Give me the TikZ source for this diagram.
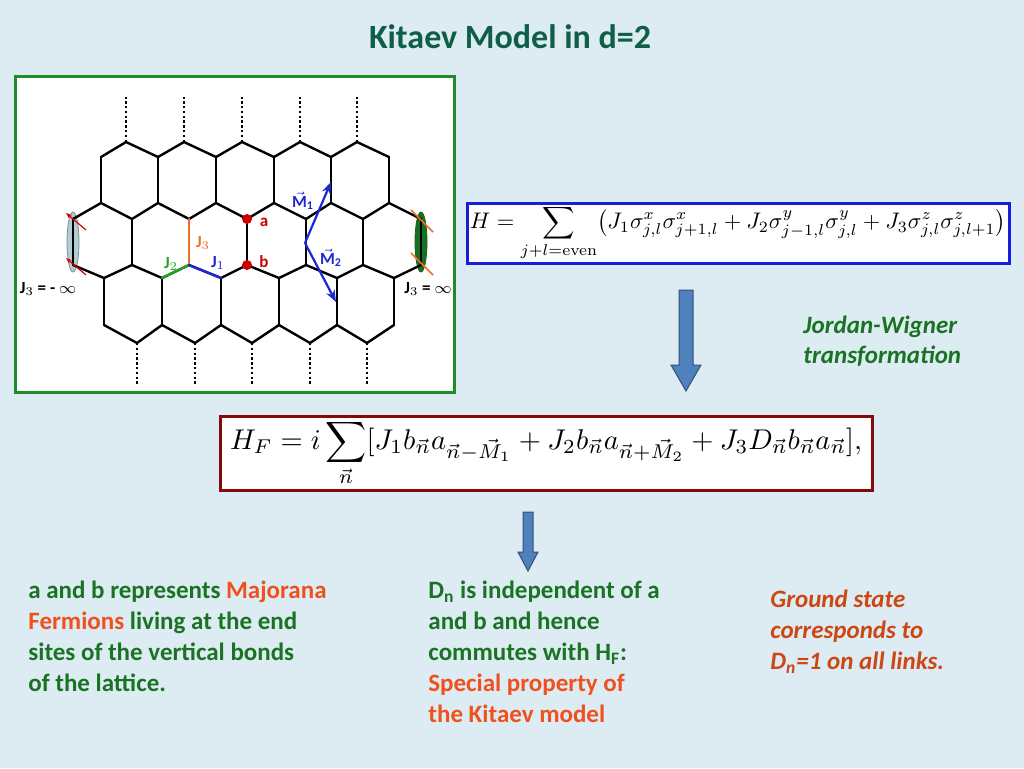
\documentclass[tikz,border=0pt]{standalone}
\usepackage{amsmath,amssymb}
\usepackage{graphicx}
\usepackage[no-math]{fontspec}
\setmainfont{Carlito}
\usetikzlibrary{arrows.meta}
\definecolor{bgblue}{RGB}{221,236,243}
\definecolor{titlecol}{RGB}{15,95,70}
\definecolor{txtgreen}{RGB}{25,115,35}
\definecolor{txtred}{RGB}{240,80,30}
\definecolor{txtbrown}{RGB}{205,70,20}
\definecolor{framegreen}{RGB}{30,140,40}
\definecolor{hblue}{RGB}{20,30,220}
\definecolor{hred}{RGB}{130,10,10}
\definecolor{arrfill}{RGB}{79,129,189}
\definecolor{arrdraw}{RGB}{50,80,120}
\definecolor{bondorange}{RGB}{240,110,40}
\definecolor{bondgreen}{RGB}{40,160,40}
\definecolor{bondblue}{RGB}{30,40,210}
\definecolor{siteblue}{RGB}{175,205,210}
\tikzset{
  bond/.style={line width=1.2pt,line cap=round},
  tail/.style={line width=1.2pt,dash pattern=on 1.2pt off 1.2pt},
  txt/.style={anchor=north west,align=left,inner sep=0pt,font=\fontsize{12.5}{15.5}\selectfont\bfseries},
  blk/.style={fill=arrfill,draw=arrdraw,line width=0.5pt},
  lab/.style={font=\fontsize{8.5}{9}\selectfont\bfseries,inner sep=0pt}
}
\begin{document}
\begin{tikzpicture}[x=0.5pt,y=-0.5pt]
	\fill[bgblue] (0,0) rectangle (1024,768);
	\useasboundingbox (0,0) rectangle (1024,768);
	
	\node[font=\fontsize{17}{20}\selectfont\bfseries,text=titlecol] (title) at (510,37) {Kitaev Model in d=2};
	
	% lattice frame
	\draw[framegreen,fill=white,line width=1.5pt] (15,76) rectangle (454,392);
	
	\foreach \x [count=\i from 0] in {126,184,242,300,357}{
		\coordinate (T\i) at (\x,142);
		\coordinate (Tu\i) at (\x,97);
	}
	\foreach \x [count=\i from 0] in {137,195,252,310,367}{
		\coordinate (B\i) at (\x,343);
		\coordinate (Bd\i) at (\x,385);
	}
	\foreach \x [count=\i from 0] in {101,158,216,274,331,389}{
		\coordinate (U\i) at (\x,157);
		\coordinate (V\i) at (\x,203);
	}
	\foreach \x [count=\i from 0] in {73,132,189,247,306,363,421}{
		\coordinate (P\i) at (\x,219);
		\coordinate (Q\i) at (\x,265);
	}
	\foreach \x [count=\i from 0] in {104,162,221,279,337,394}{
		\coordinate (R\i) at (\x,278);
		\coordinate (S\i) at (\x,325);
	}
	
	% spin ellipses at the ends
	\draw[siteblue!70!black,fill=siteblue,line width=0.4pt] (P0) ++(0,23) ellipse (6 and 30);
	\draw[framegreen!70!black,fill=framegreen!80!black,line width=0.4pt] (P6) ++(0,23) ellipse (6 and 30);
	
	\foreach \i in {0,...,4}{
		\draw[tail] (T\i)--(Tu\i);
		\draw[tail] (B\i)--(Bd\i);
	}
	\foreach \i [evaluate=\i as \j using int(\i+1)] in {0,...,4}{
		\draw[bond] (U\i)--(T\i)--(U\j);
		\draw[bond] (S\i)--(B\i)--(S\j);
	}
	\foreach \i [evaluate=\i as \j using int(\i+1)] in {0,...,5}{
		\draw[bond] (U\i)--(V\i);
		\draw[bond] (P\i)--(V\i)--(P\j);
		\draw[bond] (Q\i)--(R\i)--(Q\j);
		\draw[bond] (R\i)--(S\i);
	}
	\foreach \i in {0,...,6}{
		\draw[bond] (P\i)--(Q\i);
	}
	
	% coloured bonds
	\draw[bond,bondorange] (P2)--(Q2);
	\draw[bond,bondgreen] (Q2)--(R1);
	\draw[bond,bondblue] (Q2)--(R2);
	\fill[red!80!black] (P3) circle (5) (Q3) circle (5);
	\node[lab,text=red!80!black] (a) at (264,222) {a};
	\node[lab,text=red!80!black] (b) at (264,262) {b};
	\node[lab,text=bondorange] (J3) at (203,243) {J$_3$};
	\node[lab,text=bondgreen] (J2) at (171,264) {J$_2$};
	\node[lab,text=bondblue] (J1) at (218,263) {J$_1$};
	
	% translation vectors
	\coordinate (M0) at (305,243);
	\coordinate (M1) at (331,182);
	\coordinate (M2) at (336,302);
	\draw[bondblue,line width=1.1pt,-{Stealth[length=6pt]}] (M0)--(M1);
	\draw[bondblue,line width=1.1pt,-{Stealth[length=6pt]}] (M0)--(M2);
	\node[lab,text=bondblue] (m1) at (303,201) {$\vec{\text{M}}_{\text{1}}$};
	\node[lab,text=bondblue] (m2) at (331,258) {$\vec{\text{M}}_{\text{2}}$};
	
	% spins
	\foreach \y in {213,258}{
		\draw[red!85!black,line width=0.6pt,-{Stealth[length=3pt]}] (86,\y+17)--(66,\y);
	}
	\foreach \y in {210,253}{
		\draw[bondorange,line width=0.8pt] (411,\y)--(433,\y+22);
	}
	\node[lab] (jm) at (48,289) {J$_3$ = - $\infty$};
	\node[lab] (jp) at (428,289) {J$_3$ = $\infty$};
	
	% hamiltonians
	\node[draw=hblue,fill=white,line width=1.5pt,minimum width=271pt,minimum height=30pt,inner sep=1pt] (H) at (738,233)
		{\resizebox{268pt}{!}{$\displaystyle H=\sum_{j+l=\mathrm{even}}\bigl(J_1\sigma^x_{j,l}\sigma^x_{j+1,l}+J_2\sigma^y_{j-1,l}\sigma^y_{j,l}+J_3\sigma^z_{j,l}\sigma^z_{j,l+1}\bigr)$}};
	\node[draw=hred,fill=white,line width=1.5pt,minimum width=326pt,minimum height=37pt,inner sep=1pt] (HF) at (546,453)
		{\resizebox{316pt}{!}{$\displaystyle H_F=i\sum_{\vec n}[J_1b_{\vec n}a_{\vec n-\vec M_1}+J_2b_{\vec n}a_{\vec n+\vec M_2}+J_3D_{\vec n}b_{\vec n}a_{\vec n}],$}};
	
	% block arrows
	\draw[blk] (679,290)--(693,290)--(693,365)--(701,365)--(686,391)--(671,365)--(679,365)--cycle;
	\draw[blk] (523,512)--(533,512)--(533,552)--(538,552)--(528,571)--(518,552)--(523,552)--cycle;
	
	\node[txt,font=\fontsize{12.5}{15}\selectfont\bfseries\itshape,text=txtgreen] (jw) at (803,316) {Jordan-Wigner\\transformation};
	
	% bottom texts
	\node[txt,text=txtgreen] (left) at (28,581) {a and b represents \textcolor{txtred}{Majorana}\\\textcolor{txtred}{Fermions} living at the end\\sites of the vertical bonds\\of the lattice.};
	\node[txt,text=txtgreen] (mid) at (428,581) {D\textsubscript{n} is independent of a\\and b and hence\\commutes with H\textsubscript{F}:\\\textcolor{txtred}{Special property of}\\\textcolor{txtred}{the Kitaev model}};
	\node[txt,font=\fontsize{12.5}{15.5}\selectfont\bfseries\itshape,text=txtbrown] (right) at (770,590) {Ground state\\corresponds to\\D\textsubscript{n}=1 on all links.};
\end{tikzpicture}
\end{document}
